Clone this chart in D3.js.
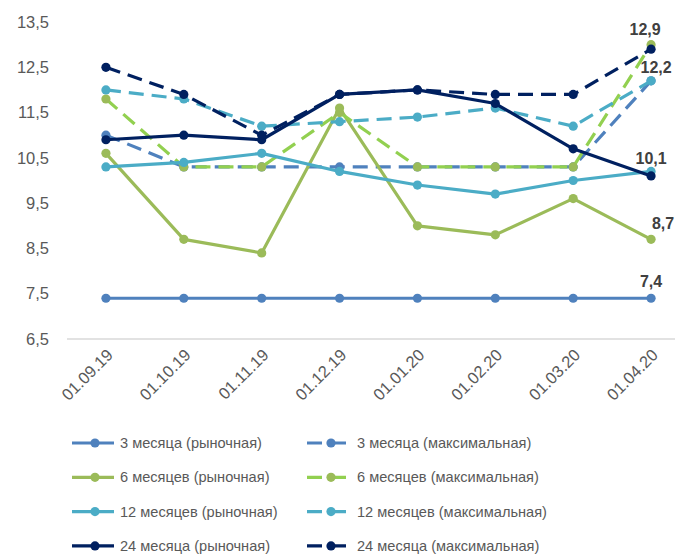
<!DOCTYPE html>
<html>
<head>
<meta charset="utf-8">
<script src="https://cdn.jsdelivr.net/npm/d3@7/dist/d3.min.js"></script>
<style>
  body { margin: 0; background: #fff; }
  text { font-family: "Liberation Sans", Arial, sans-serif; }
</style>
</head>
<body>
<svg id="chart" width="675" height="554"></svg>
<script>
// dates on the x axis
var dates = ["01.09.19", "01.10.19", "01.11.19", "01.12.19", "01.01.20", "01.02.20", "01.03.20", "01.04.20"];
var yTicks = [6.5, 7.5, 8.5, 9.5, 10.5, 11.5, 12.5, 13.5];

// rates, %
var m3Market  = [7.4, 7.4, 7.4, 7.4, 7.4, 7.4, 7.4, 7.4];
var m3Max     = [11.0, 10.3, 10.3, 10.3, 10.3, 10.3, 10.3, 12.2];
var m6Market  = [10.6, 8.7, 8.4, 11.6, 9.0, 8.8, 9.6, 8.7];
var m6Max     = [11.8, 10.3, 10.3, 11.5, 10.3, 10.3, 10.3, 13.0];
var m12Market = [10.3, 10.4, 10.6, 10.2, 9.9, 9.7, 10.0, 10.2];
var m12Max    = [12.0, 11.8, 11.2, 11.3, 11.4, 11.6, 11.2, 12.2];
var m24Market = [10.9, 11.0, 10.9, 11.9, 12.0, 11.7, 10.7, 10.1];
var m24Max    = [12.5, 11.9, 11.0, 11.9, 12.0, 11.9, 11.9, 12.9];

var seriesNames = [
  "3 месяца (рыночная)", "3 месяца (максимальная)",
  "6 месяцев (рыночная)", "6 месяцев (максимальная)",
  "12 месяцев (рыночная)", "12 месяцев (максимальная)",
  "24 месяца (рыночная)", "24 месяца (максимальная)"
];
var seriesValues = [m3Market, m3Max, m6Market, m6Max, m12Market, m12Max, m24Market, m24Max];

// which series get a label on the last point
var labelled = [0, 2, 5, 6, 7];

var styles = [
  { line: "#4f81bd", dot: "#4f81bd", dash: null },
  { line: "#4f81bd", dot: "#4f81bd", dash: "15,8" },
  { line: "#9bbb59", dot: "#9bbb59", dash: null },
  { line: "#92d050", dot: "#9bbb59", dash: "15,8" },
  { line: "#4bacc6", dot: "#4bacc6", dash: null },
  { line: "#4bacc6", dot: "#4bacc6", dash: "15,8" },
  { line: "#002060", dot: "#002060", dash: null },
  { line: "#002060", dot: "#002060", dash: "15,8" }
];
// label offsets from the point
var labelOffsets = { 0: [0, -11], 2: [12, -10], 5: [5, -8], 6: [0, -12], 7: [-6, -14] };

var svg = d3.select("#chart");

var x = d3.scalePoint().domain(dates).range([67, 690]).padding(0.5);
var y = d3.scaleLinear().domain([6.5, 13.5]).range([339, 22]);

// axis base line
svg.append("line")
  .attr("x1", 67).attr("x2", 690)
  .attr("y1", y(6.5)).attr("y2", y(6.5))
  .attr("stroke", "#d9d9d9").attr("stroke-width", 1.3);

var fmt = function(v) { return d3.format(".1f")(v).replace(".", ","); };

// y labels
svg.append("g").selectAll("text")
  .data(yTicks)
  .enter().append("text")
    .attr("x", 49)
    .attr("y", function(d) { return y(d); })
    .attr("dy", "0.35em")
    .attr("text-anchor", "end")
    .attr("font-size", 16.5)
    .attr("fill", "#595959")
    .text(fmt);

// x labels
svg.append("g").selectAll("text")
  .data(dates)
  .enter().append("text")
    .attr("transform", function(d) { return "translate(" + (x(d) + 8) + "," + 356 + ") rotate(-45)"; })
    .attr("text-anchor", "end")
    .attr("font-size", 16.5)
    .attr("fill", "#595959")
    .text(function(d) { return d; });

var line = d3.line()
  .x(function(d, i) { return x(dates[i]); })
  .y(function(d) { return y(d); });

seriesValues.forEach(function(vals, s) {
  var st = styles[s];
  var g = svg.append("g");
  g.append("path")
    .attr("d", line(vals))
    .attr("fill", "none")
    .attr("stroke", st.line)
    .attr("stroke-width", 3.2)
    .attr("stroke-linejoin", "round")
    .attr("stroke-dasharray", st.dash);
  g.selectAll("circle")
    .data(vals)
    .enter().append("circle")
      .attr("cx", function(d, i) { return x(dates[i]); })
      .attr("cy", function(d) { return y(d); })
      .attr("r", 4.6)
      .attr("fill", st.dot);
});

// data labels on last point
labelled.forEach(function(s) {
  var vals = seriesValues[s];
  var last = vals.length - 1;
  var off = labelOffsets[s];
  svg.append("text")
    .attr("x", x(dates[last]) + off[0])
    .attr("y", y(vals[last]) + off[1])
    .attr("text-anchor", "middle")
    .attr("font-size", 16)
    .attr("font-weight", "bold")
    .attr("fill", "#404040")
    .text(fmt(vals[last]));
});

// legend
var legend = svg.append("g");
seriesNames.forEach(function(name, s) {
  var col = s % 2, row = Math.floor(s / 2);
  var lx = col === 0 ? 72 : 307;
  var ly = 443 + row * 34.3;
  var st = styles[s];
  var item = legend.append("g");
  item.append("line")
    .attr("x1", lx).attr("x2", lx + 42)
    .attr("y1", ly).attr("y2", ly)
    .attr("stroke", st.line)
    .attr("stroke-width", 3.2)
    .attr("stroke-dasharray", st.dash ? "15,9" : null);
  item.append("circle")
    .attr("cx", lx + (col === 0 ? 23 : 24)).attr("cy", ly)
    .attr("r", 4.6)
    .attr("fill", st.dot);
  item.append("text")
    .attr("x", col === 0 ? 120 : 357)
    .attr("y", ly)
    .attr("dy", "0.35em")
    .attr("font-size", 14.6)
    .attr("fill", "#595959")
    .text(name);
});
</script>
</body>
</html>
